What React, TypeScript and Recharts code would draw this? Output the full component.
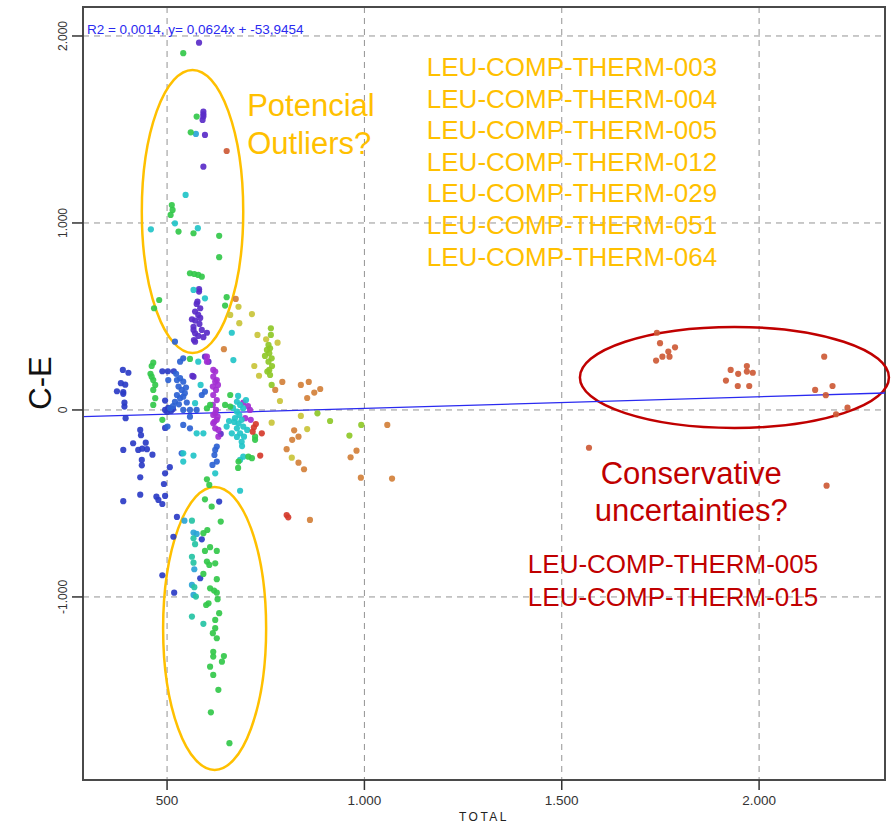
import {
  CartesianGrid,
  ReferenceArea,
  ReferenceDot,
  ReferenceLine,
  Scatter,
  ScatterChart,
  XAxis,
  YAxis,
} from 'recharts';

const FONT = "Arial, 'Liberation Sans', sans-serif";

const xDomain: [number, number] = [287, 2319];
const yDomain: [number, number] = [-1979, 2155];
const xTicks = [500, 1000, 1500, 2000];
const yTicks = [-1000, 0, 1000, 2000];

const fitSlope = 0.0624;
const fitIntercept = -53.9454;
const fitLabel = 'R2 = 0,0014, y= 0,0624x + -53,9454';

const outlierStudies = [
  'LEU-COMP-THERM-003',
  'LEU-COMP-THERM-004',
  'LEU-COMP-THERM-005',
  'LEU-COMP-THERM-012',
  'LEU-COMP-THERM-029',
  'LEU-COMP-THERM-051',
  'LEU-COMP-THERM-064',
];
const conservativeStudies = ['LEU-COMP-THERM-005', 'LEU-COMP-THERM-015'];

// [TOTAL, C-E] pairs, grouped by dot colour
const navy: [number, number][] = [
  [388, 214], [402, 199], [383, 143], [394, 135], [373, 100], [389, 96], [389, 86], [392, 39], [392, 18], [395, -44],
  [432, -107], [434, -135], [414, -178], [446, -175], [389, -214], [427, -214], [437, -207], [449, -210], [463, -239],
  [436, -267], [436, -296], [432, -360], [432, -453], [389, -488], [473, -464], [478, -481], [488, -503], [495, -460],
  [492, -396], [495, -339], [507, -306], [495, -96], [495, 50], [488, 207], [502, 207], [517, 207],
  [495, 0], [503, 11], [510, -5], [500, -11], [515, 5],
  [525, -572], [516, -678], [588, -692], [632, -490], [488, -884], [584, -900], [518, -977],
];
const blue: [number, number][] = [
  [525, 160], [533, 170], [541, 151], [529, 125], [537, 107], [525, 80], [533, 63], [520, 44], [508, 9], [541, 0], [558, 0],
  [541, -80], [558, -98], [537, -232], [588, 80], [596, 98], [533, 258], [541, 276], [520, 365],
  [626, -196], [622, -214], [620, -241], [626, -276], [615, -294],
  [503, 160], [523, 193], [541, 71], [558, -36], [575, 0], [501, -89],
  [548, 120], [545, 90], [530, 30], [550, 40], [515, 20],
];
const indigo: [number, number][] = [
  [581, 1964], [592, 1595], [592, 1581], [592, 1569], [590, 1551], [596, 1471], [592, 1301],
  [581, 646], [581, 633], [577, 579], [584, 544], [571, 526], [579, 508], [563, 485], [571, 478], [582, 460],
  [567, 445], [588, 428], [601, 413], [571, 410], [579, 396], [568, 374], [592, 389], [575, 567], [571, 365],
  [567, 428], [584, 492], [596, 285], [605, 258], [567, 178], [636, -128], [564, 182],
];
const violet: [number, number][] = [
  [622, 205], [617, 178], [626, 160], [622, 151], [616, 125], [624, 107], [617, 80], [626, 53], [616, 27], [624, 0],
  [617, -27], [626, -53], [617, -71], [622, -98], [630, -107], [620, -63], [628, -36], [622, -18], [629, 134], [617, 214],
  [601, 258], [693, 39], [710, 0], [712, -53], [698, -44], [705, 21], [630, -143], [601, 285],
];
const cyan: [number, number][] = [
  [677, 44], [685, 27], [693, 9], [677, -9], [683, -27], [672, -44], [689, -53], [681, -71], [693, -89], [677, -98],
  [685, -125], [695, -143], [689, -170], [651, -89], [664, -125], [693, -250], [685, -267],
  [667, 11], [680, 75], [700, 53], [670, -64], [703, -107], [657, -59], [677, -144], [690, -193],
  [664, 413], [668, 267], [592, -125], [575, -125], [567, -244], [541, -232], [541, -276], [622, -339], [685, -432],
  [571, 36], [567, 642], [596, 597], [579, 258], [585, 134], [459, 966], [520, 998], [578, 972], [547, 1150],
];
const skyBlue: [number, number][] = [
  [573, 1476], [544, -592], [567, -656], [575, -663], [569, -852], [563, -936], [567, -989],
];
const teal: [number, number][] = [
  [563, -592], [567, -686], [571, -718], [563, -785], [567, -817], [569, -948], [573, -998], [563, -1105], [592, -1144],
];
const green: [number, number][] = [
  [541, 1908], [575, 1569], [560, 1485], [512, 1096], [514, 1070], [509, 1043], [529, 954], [567, 945], [632, 931],
  [632, 817], [558, 731], [569, 727], [579, 722], [588, 713], [480, 588], [467, 544], [651, 603], [647, 558],
  [465, 253], [461, 235], [458, 193], [461, 178], [465, 160], [470, 134], [465, 107], [470, 63], [465, 27], [488, -53],
  [558, 273], [660, 80], [647, 27], [660, 18], [609, 27], [706, -250], [681, -276], [715, -258], [723, -160],
  [680, -310], [601, 9], [723, -143],
  [601, -371], [607, -401], [596, -478], [613, -517], [636, -597], [602, -642], [592, -659], [609, -734], [626, -754],
  [596, -754], [601, -811], [607, -829], [622, -820], [592, -877], [626, -905], [609, -954], [619, -966], [626, -977],
  [628, -1012], [605, -1034], [599, -1043], [632, -1087], [622, -1123], [622, -1167], [616, -1194], [626, -1221],
  [617, -1293], [617, -1319], [644, -1316], [639, -1346], [609, -1373], [617, -1417], [630, -1497], [611, -1617],
  [658, -1782],
];
const yellowGreen: [number, number][] = [
  [763, 437], [763, 401], [757, 348], [761, 330], [753, 321], [759, 303], [765, 276], [757, 258], [759, 214],
  [754, 205], [761, 187], [765, 134], [748, 289], [766, 235], [881, -18], [913, -59], [962, -137], [992, -80],
];
const olive: [number, number][] = [
  [751, 378], [780, 360], [729, 401], [721, 235], [733, 183], [715, 513], [683, 464], [681, 552], [786, 48],
  [839, -32], [855, -102], [765, -68], [816, -255], [660, 508],
];
const orange: [number, number][] = [
  [792, 150], [774, 107], [839, 134], [859, 150], [873, 93], [888, 112], [855, 64], [822, -109], [833, -143],
  [817, -160], [803, -210], [833, -282], [847, -317], [980, -218], [965, -253], [991, -362], [1058, -80],
  [1070, -367], [862, -588], [674, 594], [644, 325],
];
const red: [number, number][] = [
  [720, -93], [717, -116], [740, -125], [736, -244], [803, -562], [807, -574], [725, -75],
];
const rust: [number, number][] = [
  [1741, 413], [1749, 357], [1770, 312], [1787, 335], [1755, 285], [1773, 285], [1739, 264], [1928, 214],
  [1947, 193], [1969, 235], [1969, 205], [1984, 199], [1916, 157], [1946, 128], [1975, 128], [2165, 285],
  [2186, 128], [2142, 107], [2169, 79], [2224, 12], [2195, -23], [1569, -202], [2171, -405], [651, 1385],
];

const groups: { pts: [number, number][]; color: string }[] = [
  { pts: navy, color: '#2b3cc6' },
  { pts: blue, color: '#2d62d2' },
  { pts: indigo, color: '#5a2dc8' },
  { pts: violet, color: '#a32fd2' },
  { pts: cyan, color: '#22c4c8' },
  { pts: skyBlue, color: '#2aa4d6' },
  { pts: teal, color: '#25c3a4' },
  { pts: green, color: '#33c84a' },
  { pts: yellowGreen, color: '#8ec828' },
  { pts: olive, color: '#c9c43a' },
  { pts: orange, color: '#d3803a' },
  { pts: red, color: '#d53b2d' },
  { pts: rust, color: '#cd5a36' },
];

const upperOutliers = { x1: 436, x2: 693, y1: 305, y2: 1818 };
const lowerOutliers = { x1: 490, x2: 751, y1: -1925, y2: -412 };
const conservative = { x1: 1546, x2: 2329, y1: -96, y2: 444 };

const ORANGE = '#FFC000';
const DARKRED = '#C00000';

const fmt = (v: number) => {
  const s = String(Math.abs(v)).replace(/\B(?=(\d{3})+(?!\d))/g, '.');
  return v < 0 ? '-' + s : s;
};

const ellipse = (color: string) => (p: any) => (
  <ellipse
    cx={p.x + p.width / 2}
    cy={p.y + p.height / 2}
    rx={Math.abs(p.width) / 2}
    ry={Math.abs(p.height) / 2}
    fill="none"
    stroke={color}
    strokeWidth={2.5}
  />
);

const textBlock =
  (lines: string[], color: string, size: number, gap: number, anchor: 'start' | 'middle') =>
  (p: any) => (
    <text
      x={p.cx}
      y={p.cy}
      fill={color}
      fontSize={size}
      fontFamily={FONT}
      textAnchor={anchor}
      dominantBaseline="central"
    >
      {lines.map((l, i) => (
        <tspan key={i} x={p.cx} dy={i === 0 ? 0 : gap}>
          {l}
        </tspan>
      ))}
    </text>
  );

const YTick = (p: any) => (
  <text
    x={p.x}
    y={p.y}
    transform={`rotate(-90, ${p.x}, ${p.y})`}
    textAnchor="middle"
    fontSize={12}
    fontFamily={FONT}
    fill="#333"
  >
    {fmt(p.payload.value)}
  </text>
);

export default function App() {
  return (
    <div style={{ position: 'absolute', left: 0, top: 0, background: '#fff' }}>
      <ScatterChart width={891} height={823} margin={{ top: 7, right: 6, bottom: 0, left: 0 }}>
        <CartesianGrid stroke="#939393" strokeDasharray="6 5" />
        <XAxis
          type="number"
          dataKey="x"
          domain={xDomain}
          ticks={xTicks}
          allowDataOverflow
          height={43}
          tickSize={10}
          tickMargin={5}
          tickFormatter={fmt}
          tick={{ fontSize: 13.5, fill: '#333', fontFamily: FONT }}
          stroke="#4a4a4a"
          axisLine={{ stroke: '#4a4a4a', strokeWidth: 2 }}
          tickLine={{ stroke: '#333', strokeWidth: 1.5 }}
          label={{
            value: 'TOTAL',
            position: 'insideBottom',
            offset: 2,
            fontSize: 12,
            fill: '#222',
            fontFamily: FONT,
            letterSpacing: 2.5,
          }}
        />
        <YAxis
          type="number"
          dataKey="y"
          domain={yDomain}
          ticks={yTicks}
          allowDataOverflow
          width={83}
          tickSize={11}
          tickMargin={5}
          tick={<YTick />}
          axisLine={{ stroke: '#4a4a4a', strokeWidth: 2 }}
          tickLine={{ stroke: '#333', strokeWidth: 1.5 }}
          label={{
            content: () => (
              <text
                x={51}
                y={383}
                transform="rotate(-90, 51, 383)"
                textAnchor="middle"
                fontSize={31}
                fontFamily={FONT}
                fill="#111"
              >
                C-E
              </text>
            ),
          }}
        />
        <ReferenceArea
          x1={xDomain[0]}
          x2={xDomain[1]}
          y1={yDomain[0]}
          y2={yDomain[1]}
          fill="none"
          fillOpacity={0}
          stroke="#4a4a4a"
          strokeWidth={2}
        />
        {groups.map((g, i) => (
          <Scatter
            key={i}
            data={g.pts.map(([x, y]) => ({ x, y }))}
            fill={g.color}
            isAnimationActive={false}
            shape={(p: any) => <circle cx={p.cx} cy={p.cy} r={3.1} fill={g.color} fillOpacity={0.92} />}
          />
        ))}
        <ReferenceLine
          segment={[
            { x: xDomain[0], y: fitSlope * xDomain[0] + fitIntercept },
            { x: xDomain[1], y: fitSlope * xDomain[1] + fitIntercept },
          ]}
          stroke="#2a2af0"
          strokeWidth={1.3}
        />
        <ReferenceArea {...upperOutliers} ifOverflow="visible" shape={ellipse(ORANGE)} />
        <ReferenceArea {...lowerOutliers} ifOverflow="visible" shape={ellipse(ORANGE)} />
        <ReferenceArea {...conservative} ifOverflow="visible" shape={ellipse(DARKRED)} />
        <ReferenceDot
          x={297}
          y={2038}
          r={0}
          ifOverflow="visible"
          shape={textBlock([fitLabel], '#2a2af0', 13.5, 0, 'start')}
        />
        <ReferenceDot
          x={703}
          y={1631}
          r={0}
          ifOverflow="visible"
          shape={textBlock(['Potencial', 'Outliers?'], ORANGE, 31, 38, 'start')}
        />
        <ReferenceDot
          x={1526}
          y={1834}
          r={0}
          ifOverflow="visible"
          shape={textBlock(outlierStudies, ORANGE, 26, 31.6, 'middle')}
        />
        <ReferenceDot
          x={1828}
          y={-337}
          r={0}
          ifOverflow="visible"
          shape={textBlock(['Conservative', 'uncertainties?'], DARKRED, 31, 37, 'middle')}
        />
        <ReferenceDot
          x={1782}
          y={-824}
          r={0}
          ifOverflow="visible"
          shape={textBlock(conservativeStudies, DARKRED, 26, 33, 'middle')}
        />
      </ScatterChart>
    </div>
  );
}
